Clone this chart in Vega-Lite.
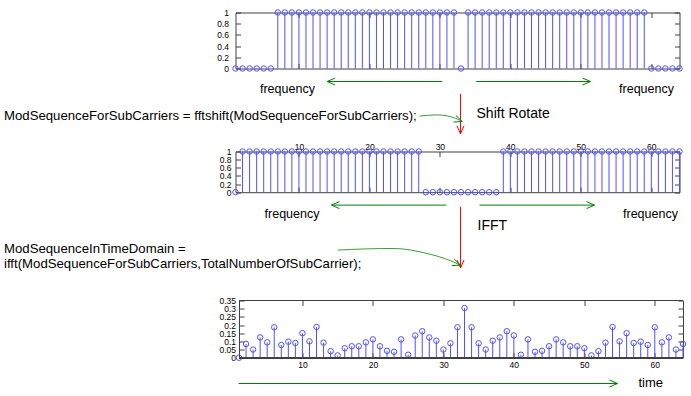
{
"$schema":"https://vega.github.io/schema/vega-lite/v6.json",
"padding":{"left":3.5,"top":7.5,"right":0,"bottom":0},
"background":"white",
"bounds":"flush",
"spacing":0,
"config":{"font":"Liberation Sans","view":{"stroke":null},
"axis":{"grid":false,"labelFontSize":8.5,"labelFont":"Liberation Sans","labelColor":"#000","domainColor":"#404040","tickColor":"#404040","labelFlush":false,"labelOverlap":false,"title":null}},
"datasets":{
"p1":[{"i":1,"v":0},{"i":2,"v":0},{"i":3,"v":0},{"i":4,"v":0},{"i":5,"v":0},{"i":6,"v":0},{"i":7,"v":1},{"i":8,"v":1},{"i":9,"v":1},{"i":10,"v":1},{"i":11,"v":1},{"i":12,"v":1},{"i":13,"v":1},{"i":14,"v":1},{"i":15,"v":1},{"i":16,"v":1},{"i":17,"v":1},{"i":18,"v":1},{"i":19,"v":1},{"i":20,"v":1},{"i":21,"v":1},{"i":22,"v":1},{"i":23,"v":1},{"i":24,"v":1},{"i":25,"v":1},{"i":26,"v":1},{"i":27,"v":1},{"i":28,"v":1},{"i":29,"v":1},{"i":30,"v":1},{"i":31,"v":1},{"i":32,"v":1},{"i":33,"v":0},{"i":34,"v":1},{"i":35,"v":1},{"i":36,"v":1},{"i":37,"v":1},{"i":38,"v":1},{"i":39,"v":1},{"i":40,"v":1},{"i":41,"v":1},{"i":42,"v":1},{"i":43,"v":1},{"i":44,"v":1},{"i":45,"v":1},{"i":46,"v":1},{"i":47,"v":1},{"i":48,"v":1},{"i":49,"v":1},{"i":50,"v":1},{"i":51,"v":1},{"i":52,"v":1},{"i":53,"v":1},{"i":54,"v":1},{"i":55,"v":1},{"i":56,"v":1},{"i":57,"v":1},{"i":58,"v":1},{"i":59,"v":1},{"i":60,"v":0},{"i":61,"v":0},{"i":62,"v":0},{"i":63,"v":0},{"i":64,"v":0}],
"p2":[{"i":1,"v":0},{"i":2,"v":1},{"i":3,"v":1},{"i":4,"v":1},{"i":5,"v":1},{"i":6,"v":1},{"i":7,"v":1},{"i":8,"v":1},{"i":9,"v":1},{"i":10,"v":1},{"i":11,"v":1},{"i":12,"v":1},{"i":13,"v":1},{"i":14,"v":1},{"i":15,"v":1},{"i":16,"v":1},{"i":17,"v":1},{"i":18,"v":1},{"i":19,"v":1},{"i":20,"v":1},{"i":21,"v":1},{"i":22,"v":1},{"i":23,"v":1},{"i":24,"v":1},{"i":25,"v":1},{"i":26,"v":1},{"i":27,"v":1},{"i":28,"v":0},{"i":29,"v":0},{"i":30,"v":0},{"i":31,"v":0},{"i":32,"v":0},{"i":33,"v":0},{"i":34,"v":0},{"i":35,"v":0},{"i":36,"v":0},{"i":37,"v":0},{"i":38,"v":0},{"i":39,"v":1},{"i":40,"v":1},{"i":41,"v":1},{"i":42,"v":1},{"i":43,"v":1},{"i":44,"v":1},{"i":45,"v":1},{"i":46,"v":1},{"i":47,"v":1},{"i":48,"v":1},{"i":49,"v":1},{"i":50,"v":1},{"i":51,"v":1},{"i":52,"v":1},{"i":53,"v":1},{"i":54,"v":1},{"i":55,"v":1},{"i":56,"v":1},{"i":57,"v":1},{"i":58,"v":1},{"i":59,"v":1},{"i":60,"v":1},{"i":61,"v":1},{"i":62,"v":1},{"i":63,"v":1},{"i":64,"v":1}],
"p3":[{"i":1,"v":0},{"i":2,"v":0.084},{"i":3,"v":0.05},{"i":4,"v":0.124},{"i":5,"v":0.094},{"i":6,"v":0.186},{"i":7,"v":0.078},{"i":8,"v":0.098},{"i":9,"v":0.09},{"i":10,"v":0.15},{"i":11,"v":0.1},{"i":12,"v":0.188},{"i":13,"v":0.092},{"i":14,"v":0.04},{"i":15,"v":0.014},{"i":16,"v":0.058},{"i":17,"v":0.07},{"i":18,"v":0.07},{"i":19,"v":0.094},{"i":20,"v":0.112},{"i":21,"v":0.07},{"i":22,"v":0.042},{"i":23,"v":0.036},{"i":24,"v":0.112},{"i":25,"v":0.018},{"i":26,"v":0.136},{"i":27,"v":0.162},{"i":28,"v":0.124},{"i":29,"v":0.104},{"i":30,"v":0.05},{"i":31,"v":0.088},{"i":32,"v":0.186},{"i":33,"v":0.304},{"i":34,"v":0.186},{"i":35,"v":0.088},{"i":36,"v":0.05},{"i":37,"v":0.104},{"i":38,"v":0.124},{"i":39,"v":0.162},{"i":40,"v":0.136},{"i":41,"v":0.018},{"i":42,"v":0.112},{"i":43,"v":0.036},{"i":44,"v":0.042},{"i":45,"v":0.07},{"i":46,"v":0.112},{"i":47,"v":0.094},{"i":48,"v":0.07},{"i":49,"v":0.07},{"i":50,"v":0.058},{"i":51,"v":0.014},{"i":52,"v":0.04},{"i":53,"v":0.092},{"i":54,"v":0.188},{"i":55,"v":0.1},{"i":56,"v":0.15},{"i":57,"v":0.09},{"i":58,"v":0.098},{"i":59,"v":0.078},{"i":60,"v":0.186},{"i":61,"v":0.094},{"i":62,"v":0.124},{"i":63,"v":0.05},{"i":64,"v":0.084}],
"a_rules":[{"x":30.33,"x2":14.01,"y":13,"y2":13,"c":"g"},{"x":35.15,"x2":51.37,"y":13,"y2":13,"c":"g"},{"x":32.93,"x2":32.93,"y":25.3,"y2":65.3,"c":"r"}],
"a_heads":[{"x":14.01,"y":13,"dir":"l","c":"g"},{"x":51.37,"y":13,"dir":"r","c":"g"},{"x":32.93,"y":65.3,"dir":"d","c":"r"},{"x":33.17,"y":53.0,"dir":"c","c":"g"}],
"a_curve":[{"x":27.11,"y":47.6},{"x":29.62,"y":46.4},{"x":31.02,"y":47.4},{"x":32.22,"y":49.8},{"x":33.17,"y":53.0}],
"a_freq":[{"x":8.37,"y":20.8,"t":"frequency"},{"x":59.32,"y":20.8,"t":"frequency"}],
"a_big":[{"x":35.2,"y":45.3,"t":"Shift Rotate"}],
"a_code":[{"x":-31.85,"y":47.3,"t":"ModSequenceForSubCarriers = fftshift(ModSequenceForSubCarriers);"}],
"b_rules":[{"x":30.9,"x2":14.62,"y":12.6,"y2":12.6,"c":"g"},{"x":35.62,"x2":51.94,"y":12.6,"y2":12.6,"c":"g"},{"x":32.93,"x2":32.93,"y":14.3,"y2":75.5,"c":"r"}],
"b_heads":[{"x":14.62,"y":12.6,"dir":"l","c":"g"},{"x":51.94,"y":12.6,"dir":"r","c":"g"},{"x":32.93,"y":75.5,"dir":"d","c":"r"},{"x":32.93,"y":72.6,"dir":"c","c":"g"}],
"b_curve":[{"x":15.52,"y":57.6},{"x":19.5,"y":56.4},{"x":23.47,"y":56.0},{"x":28.2,"y":61.0},{"x":30.8,"y":66.3},{"x":32.93,"y":72.6}],
"b_freq":[{"x":9.02,"y":21,"t":"frequency"},{"x":59.88,"y":21,"t":"frequency"}],
"b_big":[{"x":35.34,"y":33.3,"t":"IFFT"}],
"b_code":[{"x":-31.85,"y":56.6,"t":"ModSequenceInTimeDomain ="},{"x":-31.85,"y":71,"t":"ifft(ModSequenceForSubCarriers,TotalNumberOfSubCarrier);"}],
"c_rules":[{"x":1.43,"x2":55.2,"y":25,"y2":25,"c":"g"}],
"c_heads":[{"x":55.2,"y":25,"dir":"r","c":"g"}],
"c_text":[{"x":58.18,"y":24.3,"t":"time"}]
},
"vconcat":[
{"width":444,"height":56,"data":{"name":"p1"},
"layer":[
{"mark":{"type":"rule","color":"#5050ff","strokeWidth":1},
"encoding":{"x":{"field":"i","type":"quantitative","scale":{"domain":[1,64],"nice":false,"zero":false},"axis":{"orient":"bottom","values":[10,20,30,40,50,60],"labels":false,"tickSize":-5}},
"y":{"field":"v","type":"quantitative","scale":{"domain":[0,1],"nice":false},"axis":{"orient":"left","values":[0,0.2,0.4,0.6,0.8,1],"format":"~g","tickSize":-5,"labelPadding":12}},
"y2":{"datum":0}}},
{"mark":{"type":"point","shape":"circle","filled":false,"size":30,"strokeWidth":1,"color":"#5050ff","opacity":1},
"encoding":{"x":{"field":"i","type":"quantitative","scale":{"domain":[1,64],"nice":false,"zero":false},"axis":{"orient":"top","values":[10,20,30,40,50,60],"labels":false,"tickSize":-5}},
"y":{"field":"v","type":"quantitative","scale":{"domain":[0,1],"nice":false},"axis":{"orient":"right","values":[0,0.2,0.4,0.6,0.8,1],"labels":false,"tickSize":-5}}}}
],
"resolve":{"axis":{"x":"independent","y":"independent"}}},
{"width":444,"height":82.3,
"layer":[
{"data":{"name":"a_rules"},"mark":{"type":"rule","strokeWidth":1},
"encoding":{"x":{"field":"x","type":"quantitative","scale":{"domain":[1,64],"nice":false,"zero":false},"axis":null},"x2":{"field":"x2"},
"y":{"field":"y","type":"quantitative","scale":{"domain":[0,82.3],"nice":false,"zero":false,"reverse":true},"axis":null},"y2":{"field":"y2"},
"color":{"field":"c","type":"nominal","scale":{"domain":["g","r"],"range":["#008000","#ff0000"]},"legend":null}}},
{"data":{"name":"a_curve"},"mark":{"type":"line","interpolate":"monotone","color":"#3c9a3c","strokeWidth":1},
"encoding":{"x":{"field":"x","type":"quantitative","scale":{"domain":[1,64],"nice":false,"zero":false},"axis":null},
"y":{"field":"y","type":"quantitative","scale":{"domain":[0,82.3],"nice":false,"zero":false,"reverse":true},"axis":null}}},
{"data":{"name":"a_heads"},"mark":{"type":"point","filled":false,"size":64,"strokeWidth":1,"opacity":1},
"encoding":{"x":{"field":"x","type":"quantitative","scale":{"domain":[1,64],"nice":false,"zero":false},"axis":null},
"y":{"field":"y","type":"quantitative","scale":{"domain":[0,82.3],"nice":false,"zero":false,"reverse":true},"axis":null},
"color":{"field":"c","type":"nominal","scale":{"domain":["g","r"],"range":["#008000","#ff0000"]},"legend":null},
"shape":{"field":"dir","type":"nominal","scale":{"domain":["r","l","d","c"],"range":["M-2,-0.875L0,0L-2,0.875","M2,-0.875L0,0L2,0.875","M-0.875,-2L0,0L0.875,-2","M-2.18,0.14L0,0L-1.58,-1.51"]},"legend":null}}},
{"data":{"name":"a_freq"},"mark":{"type":"text","align":"center","baseline":"middle","fontSize":12.5,"color":"#000"},
"encoding":{"x":{"field":"x","type":"quantitative","scale":{"domain":[1,64],"nice":false,"zero":false},"axis":null},
"y":{"field":"y","type":"quantitative","scale":{"domain":[0,82.3],"nice":false,"zero":false,"reverse":true},"axis":null},"text":{"field":"t"}}},
{"data":{"name":"a_big"},"mark":{"type":"text","align":"left","baseline":"middle","fontSize":14,"color":"#000"},
"encoding":{"x":{"field":"x","type":"quantitative","scale":{"domain":[1,64],"nice":false,"zero":false},"axis":null},
"y":{"field":"y","type":"quantitative","scale":{"domain":[0,82.3],"nice":false,"zero":false,"reverse":true},"axis":null},"text":{"field":"t"}}},
{"data":{"name":"a_code"},"mark":{"type":"text","align":"left","baseline":"middle","fontSize":13.2,"color":"#000"},
"encoding":{"x":{"field":"x","type":"quantitative","scale":{"domain":[1,64],"nice":false,"zero":false},"axis":null},
"y":{"field":"y","type":"quantitative","scale":{"domain":[0,82.3],"nice":false,"zero":false,"reverse":true},"axis":null},"text":{"field":"t"}}}
]},
{"width":444,"height":40.7,"data":{"name":"p2"},
"layer":[
{"mark":{"type":"rule","color":"#5050ff","strokeWidth":1},
"encoding":{"x":{"field":"i","type":"quantitative","scale":{"domain":[1,64],"nice":false,"zero":false},"axis":{"orient":"bottom","values":[10,20,30,40,50,60],"labels":false,"tickSize":-5}},
"y":{"field":"v","type":"quantitative","scale":{"domain":[0,1],"nice":false},"axis":{"orient":"left","values":[0,0.2,0.4,0.6,0.8,1],"format":"~g","tickSize":-5,"labelPadding":9.5}},
"y2":{"datum":0}}},
{"mark":{"type":"point","shape":"circle","filled":false,"size":30,"strokeWidth":1,"color":"#5050ff","opacity":1},
"encoding":{"x":{"field":"i","type":"quantitative","scale":{"domain":[1,64],"nice":false,"zero":false},"axis":{"orient":"top","values":[10,20,30,40,50,60],"tickSize":-5,"labelPadding":5}},
"y":{"field":"v","type":"quantitative","scale":{"domain":[0,1],"nice":false},"axis":{"orient":"right","values":[0,0.2,0.4,0.6,0.8,1],"labels":false,"tickSize":-5}}}}
],
"resolve":{"axis":{"x":"independent","y":"independent"}}},
{"width":444,"height":107.8,
"layer":[
{"data":{"name":"b_rules"},"mark":{"type":"rule","strokeWidth":1},
"encoding":{"x":{"field":"x","type":"quantitative","scale":{"domain":[1,64],"nice":false,"zero":false},"axis":null},"x2":{"field":"x2"},
"y":{"field":"y","type":"quantitative","scale":{"domain":[0,107.8],"nice":false,"zero":false,"reverse":true},"axis":null},"y2":{"field":"y2"},
"color":{"field":"c","type":"nominal","scale":{"domain":["g","r"],"range":["#008000","#ff0000"]},"legend":null}}},
{"data":{"name":"b_curve"},"mark":{"type":"line","interpolate":"monotone","color":"#3c9a3c","strokeWidth":1},
"encoding":{"x":{"field":"x","type":"quantitative","scale":{"domain":[1,64],"nice":false,"zero":false},"axis":null},
"y":{"field":"y","type":"quantitative","scale":{"domain":[0,107.8],"nice":false,"zero":false,"reverse":true},"axis":null}}},
{"data":{"name":"b_heads"},"mark":{"type":"point","filled":false,"size":64,"strokeWidth":1,"opacity":1},
"encoding":{"x":{"field":"x","type":"quantitative","scale":{"domain":[1,64],"nice":false,"zero":false},"axis":null},
"y":{"field":"y","type":"quantitative","scale":{"domain":[0,107.8],"nice":false,"zero":false,"reverse":true},"axis":null},
"color":{"field":"c","type":"nominal","scale":{"domain":["g","r"],"range":["#008000","#ff0000"]},"legend":null},
"shape":{"field":"dir","type":"nominal","scale":{"domain":["r","l","d","c"],"range":["M-2,-0.875L0,0L-2,0.875","M2,-0.875L0,0L2,0.875","M-0.875,-2L0,0L0.875,-2","M-2.18,0.14L0,0L-1.58,-1.51"]},"legend":null}}},
{"data":{"name":"b_freq"},"mark":{"type":"text","align":"center","baseline":"middle","fontSize":12.5,"color":"#000"},
"encoding":{"x":{"field":"x","type":"quantitative","scale":{"domain":[1,64],"nice":false,"zero":false},"axis":null},
"y":{"field":"y","type":"quantitative","scale":{"domain":[0,107.8],"nice":false,"zero":false,"reverse":true},"axis":null},"text":{"field":"t"}}},
{"data":{"name":"b_big"},"mark":{"type":"text","align":"left","baseline":"middle","fontSize":14,"color":"#000"},
"encoding":{"x":{"field":"x","type":"quantitative","scale":{"domain":[1,64],"nice":false,"zero":false},"axis":null},
"y":{"field":"y","type":"quantitative","scale":{"domain":[0,107.8],"nice":false,"zero":false,"reverse":true},"axis":null},"text":{"field":"t"}}},
{"data":{"name":"b_code"},"mark":{"type":"text","align":"left","baseline":"middle","fontSize":13.2,"color":"#000"},
"encoding":{"x":{"field":"x","type":"quantitative","scale":{"domain":[1,64],"nice":false,"zero":false},"axis":null},
"y":{"field":"y","type":"quantitative","scale":{"domain":[0,107.8],"nice":false,"zero":false,"reverse":true},"axis":null},"text":{"field":"t"}}}
]},
{"width":447.5,"height":57.2,"data":{"name":"p3"},
"layer":[
{"mark":{"type":"rule","color":"#5050ff","strokeWidth":1},
"encoding":{"x":{"field":"i","type":"quantitative","scale":{"domain":[0.503,64],"nice":false,"zero":false},"axis":{"orient":"bottom","domain":false,"values":[10,20,30,40,50,60],"tickSize":-5,"labelPadding":7.7}},
"y":{"field":"v","type":"quantitative","scale":{"domain":[0,0.35],"nice":false},"axis":{"orient":"left","offset":-3.5,"values":[0,0.05,0.1,0.15,0.2,0.25,0.3,0.35],"format":"~g","tickSize":-5,"labelPadding":8.5}},
"y2":{"datum":0}}},
{"mark":{"type":"point","shape":"circle","filled":false,"size":30,"strokeWidth":1,"color":"#5050ff","opacity":1},
"encoding":{"x":{"field":"i","type":"quantitative","scale":{"domain":[0.503,64],"nice":false,"zero":false},"axis":{"orient":"top","domain":false,"values":[10,20,30,40,50,60],"labels":false,"tickSize":-5}},
"y":{"field":"v","type":"quantitative","scale":{"domain":[0,0.35],"nice":false},"axis":{"orient":"right","values":[0,0.05,0.1,0.15,0.2,0.25,0.3,0.35],"labels":false,"tickSize":-5}}}},
{"mark":{"type":"rule","color":"#404040","strokeWidth":1},
"encoding":{"x":{"datum":1,"axis":null},"x2":{"datum":64},"y":{"datum":0,"axis":null}}},
{"mark":{"type":"rule","color":"#404040","strokeWidth":1},
"encoding":{"x":{"datum":1,"axis":null},"x2":{"datum":64},"y":{"datum":0.35,"axis":null}}}
],
"resolve":{"axis":{"x":"independent","y":"independent"}}},
{"width":444,"height":40,
"layer":[
{"data":{"name":"c_rules"},"mark":{"type":"rule","strokeWidth":1},
"encoding":{"x":{"field":"x","type":"quantitative","scale":{"domain":[1,64],"nice":false,"zero":false},"axis":null},"x2":{"field":"x2"},
"y":{"field":"y","type":"quantitative","scale":{"domain":[0,40],"nice":false,"zero":false,"reverse":true},"axis":null},"y2":{"field":"y2"},
"color":{"field":"c","type":"nominal","scale":{"domain":["g","r"],"range":["#008000","#ff0000"]},"legend":null}}},
{"data":{"name":"c_heads"},"mark":{"type":"point","filled":false,"size":64,"strokeWidth":1,"opacity":1},
"encoding":{"x":{"field":"x","type":"quantitative","scale":{"domain":[1,64],"nice":false,"zero":false},"axis":null},
"y":{"field":"y","type":"quantitative","scale":{"domain":[0,40],"nice":false,"zero":false,"reverse":true},"axis":null},
"color":{"field":"c","type":"nominal","scale":{"domain":["g","r"],"range":["#008000","#ff0000"]},"legend":null},
"shape":{"field":"dir","type":"nominal","scale":{"domain":["r","l","d","c"],"range":["M-2,-0.875L0,0L-2,0.875","M2,-0.875L0,0L2,0.875","M-0.875,-2L0,0L0.875,-2","M-2.18,0.14L0,0L-1.58,-1.51"]},"legend":null}}},
{"data":{"name":"c_text"},"mark":{"type":"text","align":"left","baseline":"middle","fontSize":13,"color":"#000"},
"encoding":{"x":{"field":"x","type":"quantitative","scale":{"domain":[1,64],"nice":false,"zero":false},"axis":null},
"y":{"field":"y","type":"quantitative","scale":{"domain":[0,40],"nice":false,"zero":false,"reverse":true},"axis":null},"text":{"field":"t"}}}
]}
]
}
